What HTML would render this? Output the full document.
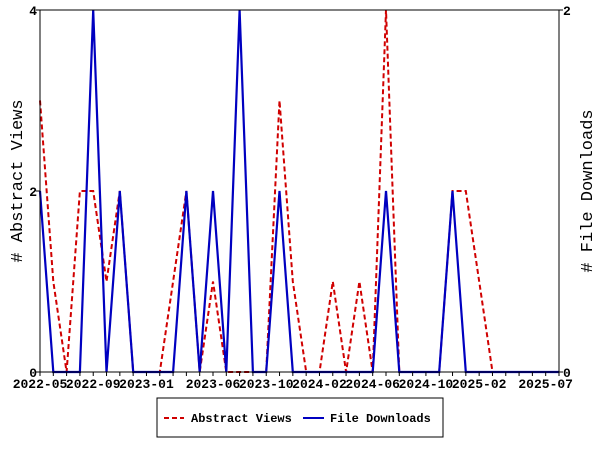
<!DOCTYPE html>
<html><head><meta charset="utf-8">
<style>
html,body{margin:0;padding:0;background:#fff;}
svg text{font-family:"Liberation Mono","DejaVu Sans Mono",monospace;font-weight:bold;font-size:13px;fill:#000;}
</style></head>
<body>
<svg id="chart" width="600" height="450" viewBox="0 0 600 450" xmlns="http://www.w3.org/2000/svg">
<rect x="0" y="0" width="600" height="450" fill="#fff"/>
<g id="grid"></g>
<g id="series"></g>
<g id="axes"></g>
<g>
  <rect x="157" y="398" width="286" height="39" fill="#fff" stroke="#000" stroke-width="1"/>
  <line x1="164" y1="418" x2="184" y2="418" stroke="#d00000" stroke-width="2" stroke-dasharray="5,3"/>
  <text x="191" y="422" style="font-size:12px">Abstract Views</text>
  <line x1="303" y1="418" x2="324" y2="418" stroke="#0000c0" stroke-width="2"/>
  <text x="330" y="422" style="font-size:12px">File Downloads</text>
</g>
<text transform="translate(22,181) rotate(-90)" text-anchor="middle" style="font-size:17px;font-weight:normal"># Abstract Views</text>
<text transform="translate(592,191) rotate(-90)" text-anchor="middle" style="font-size:17px;font-weight:normal"># File Downloads</text>
</svg>
<script>
const months = ["2022-05","2022-06","2022-07","2022-08","2022-09","2022-10","2022-11","2022-12","2023-01","2023-02","2023-03","2023-04","2023-05","2023-06","2023-07","2023-08","2023-09","2023-10","2023-11","2023-12","2024-01","2024-02","2024-03","2024-04","2024-05","2024-06","2024-07","2024-08","2024-09","2024-10","2024-11","2024-12","2025-01","2025-02","2025-03","2025-04","2025-05","2025-06","2025-07","2025-08"];
const abstractViews = [3,1,0,2,2,1,2,0,0,0,1,2,0,1,0,0,0,0,3,1,0,0,1,0,1,0,4,0,0,0,0,2,2,1,0,0,0,0,0,0];
const fileDownloads = [1,0,0,0,2,0,1,0,0,0,0,1,0,1,0,2,0,0,1,0,0,0,0,0,0,0,1,0,0,0,0,1,0,0,0,0,0,0,0,0];
const xTickLabels = ["2022-05","2022-09","2023-01","2023-06","2023-10","2024-02","2024-06","2024-10","2025-02","2025-07"];
const leftTicks = [0,2,4];
const rightTicks = [0,2];

const NS="http://www.w3.org/2000/svg";
const L=40,R=559,T=10,B=372;
const step=(R-L)/(months.length-1);
function xPos(i){return L+i*step;}
function yLeft(v){return B-(v/4)*(B-T);}
function yRight(v){return B-(v/2)*(B-T);}
function mk(tag,attrs,parent){const e=document.createElementNS(NS,tag);for(const k in attrs)e.setAttribute(k,attrs[k]);parent.appendChild(e);return e;}

const axes=document.getElementById('axes');
const series=document.getElementById('series');

let pv=abstractViews.map((v,i)=>xPos(i).toFixed(1)+","+yLeft(v).toFixed(1)).join(" ");
const lv=mk('polyline',{points:pv,fill:'none',stroke:'#d00000','stroke-width':2,'stroke-dasharray':'5,3'},series);


let pd=fileDownloads.map((v,i)=>xPos(i).toFixed(1)+","+yRight(v).toFixed(1)).join(" ");
const ld=mk('polyline',{points:pd,fill:'none',stroke:'#0000c0','stroke-width':2.2},series);



const frame=mk('rect',{x:L,y:T,width:R-L,height:B-T,fill:'none',stroke:'#000','stroke-width':1},axes);


months.forEach((m,i)=>{
  const t=mk('line',{x1:xPos(i),y1:B,x2:xPos(i),y2:B+4,stroke:'#000'},axes);
  
  
});
xTickLabels.forEach(lab=>{
  const i=months.indexOf(lab);
  const t=mk('text',{x:xPos(i),y:B+16,'text-anchor':'middle'},axes);
  t.textContent=lab;
  
  
});
leftTicks.forEach(v=>{
  mk('line',{x1:L-4,y1:yLeft(v),x2:L,y2:yLeft(v),stroke:'#000'},axes);
  const t=mk('text',{x:L-3,y:yLeft(v)+5,'text-anchor':'end'},axes);
  t.textContent=v;
  
  
});
rightTicks.forEach(v=>{
  mk('line',{x1:R,y1:yRight(v),x2:R+4,y2:yRight(v),stroke:'#000'},axes);
  const t=mk('text',{x:R+4,y:yRight(v)+5,'text-anchor':'start'},axes);
  t.textContent=v;
  
  
});
</script>
</body></html>
